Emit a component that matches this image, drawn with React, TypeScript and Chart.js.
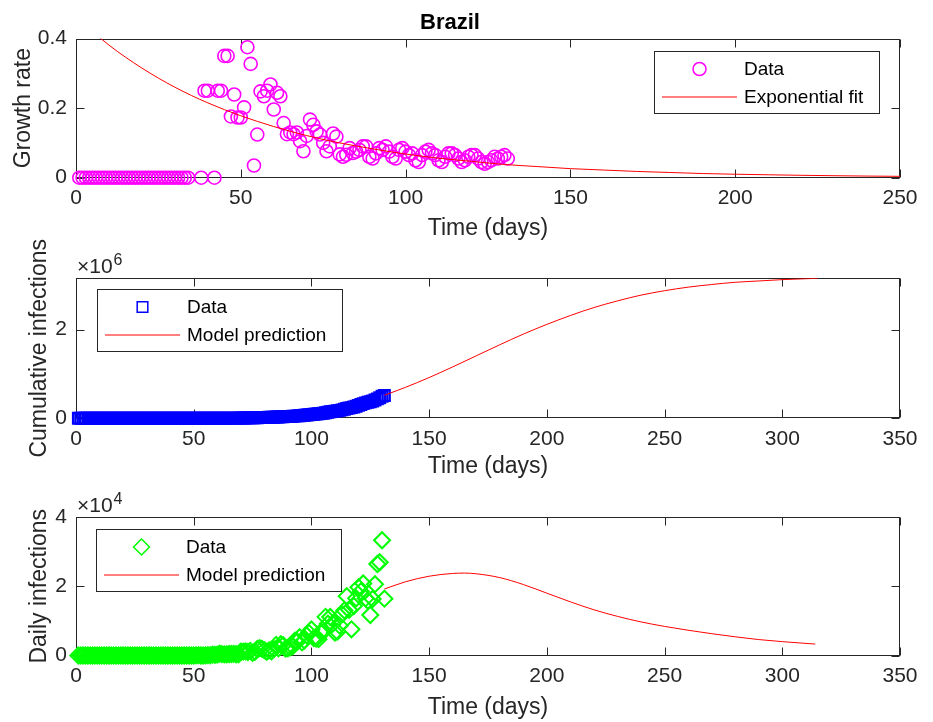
import React, { useEffect, useRef } from 'react';
import { Chart, registerables } from 'chart.js';

Chart.register(...registerables);

const FONT = '"Liberation Sans", Arial, Helvetica, sans-serif';
const AX = '#262626';

// ---------------- DATA ----------------
const FIRST_DAY = 1; // day number of the first entry in the daily arrays

// Growth rate (days 1..131); null = not plotted
const GROWTH_RATE: (number | null)[] = [
  0, 0, 0, 0, 0, 0, 0, 0, 0, 0,
  0, 0, 0, 0, 0, 0, 0, 0, 0, 0,
  0, 0, 0, 0, 0, 0, 0, 0, 0, 0,
  0, 0, 0, 0, null, null, null, 0, 0.25, 0.25,
  null, 0, 0.25, 0.25, 0.35, 0.35, 0.176, 0.239, 0.173, 0.173,
  0.202, 0.375, 0.327, 0.035, 0.124, 0.248, 0.234, 0.25, 0.268, 0.196,
  0.244, 0.234, 0.157, 0.125, 0.13, 0.125, 0.13, 0.105, 0.076, 0.12,
  0.167, 0.152, 0.133, 0.124, 0.1, 0.076, 0.09, 0.127, 0.118, 0.067,
  0.06, 0.066, 0.085, 0.071, 0.075, 0.08, 0.09, 0.09, 0.06, 0.055,
  0.07, 0.085, 0.08, 0.09, 0.075, 0.06, 0.055, 0.08, 0.085, 0.075,
  0.065, 0.07, 0.05, 0.045, 0.065, 0.075, 0.08, 0.07, 0.065, 0.05,
  0.045, 0.06, 0.07, 0.07, 0.065, 0.055, 0.045, 0.05, 0.06, 0.065,
  0.065, 0.055, 0.045, 0.04, 0.045, 0.05, 0.06, 0.055, 0.06, 0.065,
  0.055,
];

// Exponential fit, sampled
const FIT_DAYS = [0, 10, 20, 30, 40, 50, 60, 70, 80, 90, 100, 110, 120, 130, 140, 150, 160, 170, 180, 190, 200, 210, 220, 230, 240, 250];
const FIT_RATE = [0.462, 0.381, 0.315, 0.26, 0.215, 0.178, 0.147, 0.121, 0.1, 0.083, 0.068, 0.056, 0.047, 0.038, 0.032, 0.026, 0.022, 0.018, 0.015, 0.012, 0.01, 0.0084, 0.0069, 0.0057, 0.0047, 0.0039];

// Cumulative infections (days 1..131)
const CUMULATIVE = [
  0, 0, 0, 0, 0, 0, 0, 0, 0, 0,
  0, 0, 0, 0, 0, 0, 0, 0, 0, 0,
  0, 0, 0, 0, 0, 0, 0, 0, 0, 0,
  0, 0, 0, 0, 0, 1, 1, 1, 2, 2,
  2, 2, 4, 4, 13, 13, 20, 25, 31, 38,
  52, 151, 151, 162, 200, 321, 372, 621, 793, 1021,
  1546, 1924, 2247, 2554, 2985, 3417, 3904, 4256, 4579, 5717,
  6836, 8044, 9056, 10360, 11130, 12161, 14034, 16170, 18092, 19638,
  20727, 22192, 23430, 25262, 28320, 30425, 33682, 36658, 38654, 40743,
  43079, 45757, 50036, 54043, 59324, 63100, 67446, 73235, 79685, 87187,
  92202, 97100, 101826, 108620, 115455, 126611, 135773, 146894, 156061, 162699,
  169594, 178214, 190137, 203165, 220291, 233511, 241080, 255368, 271885, 291579,
  310087, 330890, 347398, 363211, 374898, 391222, 411821, 438238, 465166, 498440,
  514849,
];

const MODEL_CUM_DAYS = [131, 140, 150, 160, 170, 180, 190, 200, 210, 220, 230, 240, 250, 260, 270, 280, 290, 300, 310, 315];
const MODEL_CUM = [520000, 700000, 920000, 1160000, 1410000, 1660000, 1900000, 2120000, 2320000, 2500000, 2650000, 2780000, 2880000, 2960000, 3020000, 3070000, 3100000, 3130000, 3150000, 3160000];

// Daily infections (days 1..131)
const DAILY = [
  0, 0, 0, 0, 0, 0, 0, 0, 0, 0,
  0, 0, 0, 0, 0, 0, 0, 0, 0, 0,
  0, 0, 0, 0, 0, 0, 0, 0, 0, 0,
  0, 0, 0, 0, 0, 1, 0, 0, 1, 0,
  0, 0, 2, 0, 9, 0, 7, 5, 6, 7,
  14, 99, 0, 11, 38, 121, 51, 249, 172, 228,
  525, 378, 323, 307, 431, 432, 487, 352, 323, 1138,
  1119, 1208, 1012, 1304, 770, 1031, 1873, 2136, 1922, 1546,
  1089, 1465, 1238, 1832, 3058, 2105, 3257, 2976, 1996, 2089,
  2336, 2678, 4279, 4007, 5281, 3776, 4346, 5789, 6450, 7502,
  5015, 4898, 4726, 6794, 6835, 11156, 9162, 11121, 9167, 6638,
  6895, 8620, 11923, 13028, 17126, 13220, 7569, 14288, 16517, 19694,
  18508, 20803, 16508, 15813, 11687, 16324, 20599, 26417, 26928, 33274,
  16409,
];

const MODEL_DAILY_DAYS = [131, 140, 150, 160, 165, 170, 180, 190, 200, 210, 220, 230, 240, 250, 260, 270, 280, 290, 300, 314];
const MODEL_DAILY = [19200, 21300, 22900, 23700, 23800, 23600, 22500, 20500, 18000, 15500, 13200, 11300, 9700, 8400, 7300, 6300, 5400, 4600, 4000, 3300];

const X_TICKS_TOP = [0, 50, 100, 150, 200, 250];
const X_TICKS_BOTTOM = [0, 50, 100, 150, 200, 250, 300, 350];
const Y_TICKS_GROWTH = [0, 0.2, 0.4];
const Y_TICKS_CUM = [0, 2000000];
const Y_TICKS_DAILY = [0, 20000, 40000];

// ---------------- helpers ----------------
function seriesPoints(values: (number | null)[], firstDay: number) {
  const pts: { x: number; y: number }[] = [];
  values.forEach((v, i) => {
    if (v !== null && v !== undefined) pts.push({ x: firstDay + i, y: v });
  });
  return pts;
}
function pairPoints(xs: number[], ys: number[]) {
  return xs.map((x, i) => ({ x, y: ys[i] }));
}

// MATLAB-like box with inward ticks
const boxPlugin = {
  id: 'matlabBox',
  beforeDatasetsDraw(chart: any) {
    const { ctx, chartArea: a, scales } = chart;
    ctx.save();
    ctx.strokeStyle = AX;
    ctx.lineWidth = 1;
    const L = Math.round(a.left) + 0.5;
    const R = Math.round(a.right) - 0.5;
    const T = Math.round(a.top) + 0.5;
    const B = Math.round(a.bottom) - 0.5;
    ctx.strokeRect(L, T, R - L, B - T);
    const tl = 8;
    ctx.beginPath();
    scales.x.ticks.forEach((t: any) => {
      const px = Math.round(scales.x.getPixelForValue(t.value)) + 0.5;
      ctx.moveTo(px, B);
      ctx.lineTo(px, B - tl);
      ctx.moveTo(px, T);
      ctx.lineTo(px, T + tl);
    });
    scales.y.ticks.forEach((t: any) => {
      const py = Math.round(scales.y.getPixelForValue(t.value)) + 0.5;
      ctx.moveTo(L, py);
      ctx.lineTo(L + tl, py);
      ctx.moveTo(R, py);
      ctx.lineTo(R - tl, py);
    });
    ctx.stroke();
    ctx.restore();
  },
};

function drawMarker(ctx: CanvasRenderingContext2D, style: string, cx: number, cy: number, r: number) {
  ctx.beginPath();
  if (style === 'circle') {
    ctx.arc(cx, cy, r, 0, Math.PI * 2);
  } else if (style === 'rect') {
    const s = r * Math.SQRT1_2;
    ctx.rect(cx - s, cy - s, 2 * s, 2 * s);
  } else if (style === 'rectRot') {
    ctx.moveTo(cx, cy - r);
    ctx.lineTo(cx + r, cy);
    ctx.lineTo(cx, cy + r);
    ctx.lineTo(cx - r, cy);
    ctx.closePath();
  }
  ctx.stroke();
}

const legendPlugin = {
  id: 'matlabLegend',
  afterDraw(chart: any, _args: any, opts: any) {
    if (!opts || !opts.items) return;
    const { ctx, chartArea: a } = chart;
    ctx.save();
    ctx.font = `${opts.fontSize}px ${FONT}`;
    const labels = opts.items.map((it: any) => chart.data.datasets[it.datasetIndex].label);
    const textW = Math.max(...labels.map((l: string) => ctx.measureText(l).width));
    const w = Math.round(opts.textX + textW + opts.padRight);
    const h = opts.height;
    const x = Math.round(opts.anchor === 'right' ? a.right - opts.offsetX - w : a.left + opts.offsetX);
    const y = Math.round(a.top + opts.offsetY);
    ctx.fillStyle = '#ffffff';
    ctx.fillRect(x, y, w, h);
    ctx.strokeStyle = AX;
    ctx.lineWidth = 1;
    ctx.strokeRect(x + 0.5, y + 0.5, w, h);
    opts.items.forEach((it: any, i: number) => {
      const ds = chart.data.datasets[it.datasetIndex];
      const cy = y + opts.rowY[i];
      if (it.kind === 'marker') {
        ctx.strokeStyle = ds.pointBorderColor;
        ctx.lineWidth = opts.markerLineWidth;
        drawMarker(ctx, ds.pointStyle, x + opts.markerX, cy, ds.pointRadius);
      } else {
        ctx.strokeStyle = ds.borderColor;
        ctx.lineWidth = ds.borderWidth;
        ctx.beginPath();
        ctx.moveTo(x + opts.lineX0, cy + 0.5);
        ctx.lineTo(x + opts.lineX1, cy + 0.5);
        ctx.stroke();
      }
      ctx.fillStyle = '#000000';
      ctx.textBaseline = 'middle';
      ctx.textAlign = 'left';
      ctx.fillText(ds.label, x + opts.textX, cy + 1);
    });
    ctx.restore();
  },
};

const expPlugin = {
  id: 'matlabExp',
  afterDraw(chart: any, _args: any, opts: any) {
    if (!opts || !opts.power) return;
    const { ctx, chartArea: a } = chart;
    ctx.save();
    ctx.fillStyle = AX;
    ctx.textBaseline = 'alphabetic';
    ctx.textAlign = 'left';
    ctx.font = `21px ${FONT}`;
    const base = '\u00d710';
    const x0 = a.left + 1;
    const yb = a.top - 5;
    ctx.fillText(base, x0, yb);
    const bw = ctx.measureText(base).width;
    ctx.font = `16px ${FONT}`;
    ctx.fillText(opts.power, x0 + bw + 1, yb - 8);
    ctx.restore();
  },
};

const tickFont = { family: FONT, size: 21 };
const labelFont = { family: FONT, size: 23 };

function makeConfig(p: any) {
  return {
    type: 'line',
    data: { datasets: p.datasets },
    plugins: [boxPlugin, legendPlugin, expPlugin],
    options: {
      animation: false,
      responsive: false,
      events: [],
      layout: { padding: { left: 0, right: 33, top: p.padTop, bottom: 0 } },
      plugins: {
        legend: { display: false },
        tooltip: { enabled: false },
        title: p.title
          ? {
              display: true,
              text: p.title,
              color: '#000000',
              font: { family: FONT, size: 22, weight: 'bold', lineHeight: 1.2 },
              padding: { top: 9.5, bottom: 2.6 },
            }
          : { display: false },
        matlabLegend: p.legend,
        matlabExp: p.exp || {},
      },
      scales: {
        x: {
          type: 'linear',
          min: 0,
          max: p.xMax,
          afterBuildTicks: (s: any) => {
            s.ticks = p.xTicks.map((v: number) => ({ value: v }));
          },
          afterFit: (s: any) => {
            s.height = p.canvasH - p.areaBottom;
          },
          grid: { display: false, drawTicks: false, tickLength: 0 },
          border: { display: false },
          ticks: {
            color: AX,
            font: tickFont,
            padding: 8,
            maxRotation: 0,
            autoSkip: false,
            callback: (v: any) => String(v),
          },
          title: {
            display: true,
            text: 'Time (days)',
            color: AX,
            font: { ...labelFont, lineHeight: 1.2 },
            padding: { top: 0, bottom: p.xTitlePad },
          },
        },
        y: {
          type: 'linear',
          min: 0,
          max: p.yMax,
          afterBuildTicks: (s: any) => {
            s.ticks = p.yTicks.map((v: number) => ({ value: v }));
          },
          afterFit: (s: any) => {
            s.width = 76;
          },
          grid: { display: false, drawTicks: false, tickLength: 0 },
          border: { display: false },
          ticks: {
            color: AX,
            font: tickFont,
            padding: 9,
            autoSkip: false,
            callback: p.yFmt,
          },
          title: {
            display: true,
            text: p.yTitle,
            color: AX,
            font: { ...labelFont, lineHeight: 1.2 },
            padding: { top: p.yTitlePad, bottom: 0 },
          },
        },
      },
    },
  };
}

const legendBase = {
  fontSize: 19,
  rowY: [18, 45.5],
  markerX: 45.5,
  markerLineWidth: 1.5,
  lineX0: 8,
  lineX1: 83,
  textX: 90,
  padRight: 16,
};

// Panel placement on the page (canvases overlap; they are transparent)
const TOP_PANEL = { top: 0, height: 250 };
const MID_PANEL = { top: 225, height: 258 };
const BOT_PANEL = { top: 470, height: 252 };

function growthConfig() {
  return makeConfig({
    title: 'Brazil',
    padTop: 0,
    canvasH: TOP_PANEL.height,
    areaBottom: 177.7 - TOP_PANEL.top,
    xTitlePad: 250 - 229 - 13.8,
    xMax: 250,
    xTicks: X_TICKS_TOP,
    yMax: 0.4,
    yTicks: Y_TICKS_GROWTH,
    yFmt: (v: number) => String(Math.round(v * 10) / 10),
    yTitle: 'Growth rate',
    yTitlePad: 10,
    legend: {
      ...legendBase,
      anchor: 'right',
      offsetX: 21,
      offsetY: 12,
      height: 62,
      items: [
        { datasetIndex: 0, kind: 'marker' },
        { datasetIndex: 1, kind: 'line' },
      ],
    },
    datasets: [
      {
        label: 'Data',
        data: seriesPoints(GROWTH_RATE, FIRST_DAY),
        showLine: false,
        pointStyle: 'circle',
        pointRadius: 6.5,
        pointBorderWidth: 1.6,
        pointBorderColor: '#FF00FF',
        pointBackgroundColor: 'rgba(0,0,0,0)',
        borderColor: '#FF00FF',
        clip: false,
        order: 1,
      },
      {
        label: 'Exponential fit',
        data: pairPoints(FIT_DAYS, FIT_RATE),
        showLine: true,
        borderColor: '#FF0000',
        borderWidth: 1,
        pointRadius: 0,
        cubicInterpolationMode: 'monotone',
        fill: false,
        order: 0,
      },
    ],
  });
}

function cumulativeConfig() {
  return makeConfig({
    padTop: 278.3 - MID_PANEL.top,
    canvasH: MID_PANEL.height,
    areaBottom: 418.3 - MID_PANEL.top,
    xTitlePad: MID_PANEL.top + MID_PANEL.height - 467 - 13.8,
    xMax: 350,
    xTicks: X_TICKS_BOTTOM,
    yMax: 3160000,
    yTicks: Y_TICKS_CUM,
    yFmt: (v: number) => String(Math.round(v / 1e6)),
    yTitle: 'Cumulative infections',
    yTitlePad: 26,
    exp: { power: '6' },
    legend: {
      ...legendBase,
      anchor: 'left',
      offsetX: 21,
      offsetY: 11,
      height: 62,
      items: [
        { datasetIndex: 0, kind: 'marker' },
        { datasetIndex: 1, kind: 'line' },
      ],
    },
    datasets: [
      {
        label: 'Data',
        data: seriesPoints(CUMULATIVE, FIRST_DAY),
        showLine: false,
        pointStyle: 'rect',
        pointRadius: 7.5,
        pointBorderWidth: 2.3,
        pointBorderColor: '#0000FF',
        pointBackgroundColor: 'rgba(0,0,0,0)',
        borderColor: '#0000FF',
        clip: false,
        order: 1,
      },
      {
        label: 'Model prediction',
        data: pairPoints(MODEL_CUM_DAYS, MODEL_CUM),
        showLine: true,
        borderColor: '#FF0000',
        borderWidth: 1,
        pointRadius: 0,
        cubicInterpolationMode: 'monotone',
        fill: false,
        order: 0,
      },
    ],
  });
}

function dailyConfig() {
  return makeConfig({
    padTop: 517 - BOT_PANEL.top,
    canvasH: BOT_PANEL.height,
    areaBottom: 655.5 - BOT_PANEL.top,
    xTitlePad: BOT_PANEL.top + BOT_PANEL.height - 708 - 13.8,
    xMax: 350,
    xTicks: X_TICKS_BOTTOM,
    yMax: 40000,
    yTicks: Y_TICKS_DAILY,
    yFmt: (v: number) => String(Math.round(v / 1e4)),
    yTitle: 'Daily infections',
    yTitlePad: 26,
    exp: { power: '4' },
    legend: {
      ...legendBase,
      anchor: 'left',
      offsetX: 20,
      offsetY: 12,
      height: 62,
      items: [
        { datasetIndex: 0, kind: 'marker' },
        { datasetIndex: 1, kind: 'line' },
      ],
    },
    datasets: [
      {
        label: 'Data',
        data: seriesPoints(DAILY, FIRST_DAY),
        showLine: false,
        pointStyle: 'rectRot',
        pointRadius: 8,
        pointBorderWidth: 2,
        pointBorderColor: '#00FF00',
        pointBackgroundColor: 'rgba(0,0,0,0)',
        borderColor: '#00FF00',
        clip: false,
        order: 1,
      },
      {
        label: 'Model prediction',
        data: pairPoints(MODEL_DAILY_DAYS, MODEL_DAILY),
        showLine: true,
        borderColor: '#FF0000',
        borderWidth: 1,
        pointRadius: 0,
        cubicInterpolationMode: 'monotone',
        fill: false,
        order: 0,
      },
    ],
  });
}

function Panel({ top, height, build }: { top: number; height: number; build: () => any }) {
  const ref = useRef<HTMLCanvasElement>(null);
  useEffect(() => {
    if (!ref.current) return;
    const chart = new Chart(ref.current, build());
    return () => chart.destroy();
  }, [build]);
  return (
    <canvas
      ref={ref}
      width={933}
      height={height}
      style={{ position: 'absolute', left: 0, top, width: 933, height, display: 'block' }}
    />
  );
}

export default function App() {
  return (
    <div style={{ position: 'absolute', left: 0, top: 0, width: 933, height: 722, background: '#ffffff', overflow: 'hidden' }}>
      <Panel top={TOP_PANEL.top} height={TOP_PANEL.height} build={growthConfig} />
      <Panel top={MID_PANEL.top} height={MID_PANEL.height} build={cumulativeConfig} />
      <Panel top={BOT_PANEL.top} height={BOT_PANEL.height} build={dailyConfig} />
    </div>
  );
}
